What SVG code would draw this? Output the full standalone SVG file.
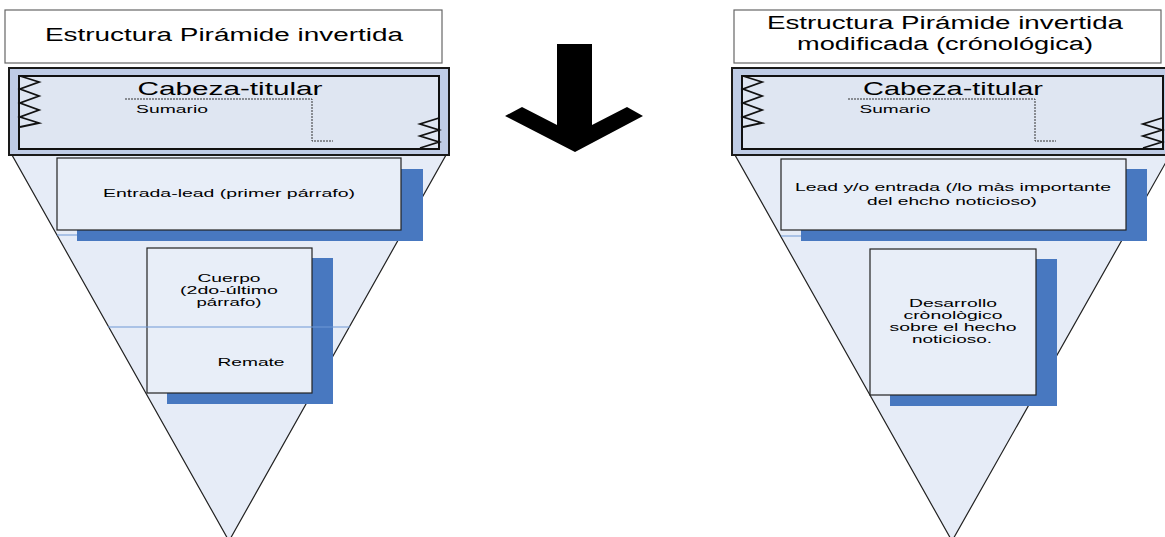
<svg xmlns="http://www.w3.org/2000/svg" width="1165" height="537" viewBox="0 0 1165 537">
<style>
text{font-family:"Liberation Sans",Arial,sans-serif;fill:#000;text-anchor:middle}
.title{font-size:18px}
.head{font-size:18px}
.small{font-size:10.5px}
.body{font-size:11.5px}
.tri{fill:#e6ecf7;stroke:#222;stroke-width:1.2}
.tbox{fill:#fff;stroke:#666;stroke-width:1.2}
.hout{fill:#bfcce6;stroke:#1a1a1a;stroke-width:2}
.hin{fill:#dfe6f2;stroke:#111;stroke-width:2}
.zz{fill:none;stroke:#111;stroke-width:1.8}
.dot{fill:none;stroke:#333;stroke-width:1;stroke-dasharray:2 1}
.box{fill:#e8eef8;stroke:#222;stroke-width:1.2}
.shadow{fill:#4878c0}
.thin{stroke:#6f97d6;stroke-width:1.2}
</style>

<g id="left-diagram">
  <polygon class="tri" points="12,155 446,155 229,541"/>
  <g id="left-title">
    <rect class="tbox" x="5" y="10" width="437" height="53"/>
    <text class="title" x="224" y="41" textLength="358" lengthAdjust="spacingAndGlyphs">Estructura Pirámide invertida</text>
  </g>
  <g id="left-lead">
    <line class="thin" x1="57" y1="235" x2="100" y2="235"/>
    <rect class="shadow" x="77" y="169" width="346" height="72"/>
    <rect class="box" x="57" y="158" width="344" height="72"/>
    <text class="small" x="229" y="197" textLength="252" lengthAdjust="spacingAndGlyphs">Entrada-lead (primer párrafo)</text>
  </g>
  <g id="left-body">
    <rect class="shadow" x="167" y="258" width="166" height="146"/>
    <rect class="box" x="147" y="248" width="165" height="145"/>
    <text class="body" x="229" y="282" textLength="63" lengthAdjust="spacingAndGlyphs">Cuerpo</text>
    <text class="body" x="229" y="294" textLength="98" lengthAdjust="spacingAndGlyphs">(2do-último</text>
    <text class="body" x="229" y="306" textLength="65" lengthAdjust="spacingAndGlyphs">párrafo)</text>
    <line class="thin" x1="108" y1="327" x2="350" y2="327"/>
    <text class="body" x="251" y="366" textLength="67" lengthAdjust="spacingAndGlyphs">Remate</text>
  </g>
  <g id="left-header">
    <rect class="hout" x="9" y="68" width="440" height="87"/>
    <rect class="hin" x="19" y="76" width="420" height="73"/>
    <polyline class="zz" points="20,76 39,82 20,89 39,96 20,103 39,110 20,117 39,123 20,127"/>
    <polyline class="zz" points="439,118 420,124 439,130 420,136 439,142 420,148"/>
    <polyline class="dot" points="125,99 312,99 312,141 333,141"/>
    <text class="head" x="230" y="95" textLength="185" lengthAdjust="spacingAndGlyphs">Cabeza-titular</text>
    <text class="small" x="172" y="113" textLength="72" lengthAdjust="spacingAndGlyphs">Sumario</text>
  </g>
</g>

<g id="arrow">
  <polygon fill="#000" points="557,44 592,44 592,125 627,107 643,116 575,152 505,116 522,107 557,125"/>
</g>

<g id="right-diagram">
  <polygon class="tri" points="735,155 1170,155 952,541"/>
  <g id="right-title">
    <rect class="tbox" x="734" y="10" width="427" height="53"/>
    <text class="title" x="945" y="29" textLength="356" lengthAdjust="spacingAndGlyphs">Estructura Pirámide invertida</text>
    <text class="title" x="945" y="50" textLength="296" lengthAdjust="spacingAndGlyphs">modificada (crónológica)</text>
  </g>
  <g id="right-lead">
    <line class="thin" x1="781" y1="236" x2="820" y2="236"/>
    <rect class="shadow" x="801" y="169" width="346" height="72"/>
    <rect class="box" x="781" y="159" width="345" height="71"/>
    <text class="small" x="953" y="191" textLength="316" lengthAdjust="spacingAndGlyphs">Lead y/o entrada (/lo màs importante</text>
    <text class="small" x="952" y="205" textLength="170" lengthAdjust="spacingAndGlyphs">del ehcho noticioso)</text>
  </g>
  <g id="right-body">
    <rect class="shadow" x="890" y="259" width="167" height="147"/>
    <rect class="box" x="870" y="249" width="166" height="146"/>
    <text class="body" x="953" y="307" textLength="88" lengthAdjust="spacingAndGlyphs">Desarrollo</text>
    <text class="body" x="953" y="319" textLength="99" lengthAdjust="spacingAndGlyphs">crònològico</text>
    <text class="body" x="953" y="331" textLength="127" lengthAdjust="spacingAndGlyphs">sobre el hecho</text>
    <text class="body" x="952" y="343" textLength="80" lengthAdjust="spacingAndGlyphs">noticioso.</text>
  </g>
  <g id="right-header">
    <rect class="hout" x="732" y="68" width="440" height="87"/>
    <rect class="hin" x="742" y="76" width="421" height="73"/>
    <polyline class="zz" points="743,76 762,82 743,89 762,96 743,103 762,110 743,117 762,123 743,127"/>
    <polyline class="zz" points="1162,118 1143,124 1162,130 1143,136 1162,142 1143,148"/>
    <polyline class="dot" points="848,99 1035,99 1035,141 1056,141"/>
    <text class="head" x="953" y="95" textLength="180" lengthAdjust="spacingAndGlyphs">Cabeza-titular</text>
    <text class="small" x="895" y="113" textLength="71" lengthAdjust="spacingAndGlyphs">Sumario</text>
  </g>
</g>
</svg>
